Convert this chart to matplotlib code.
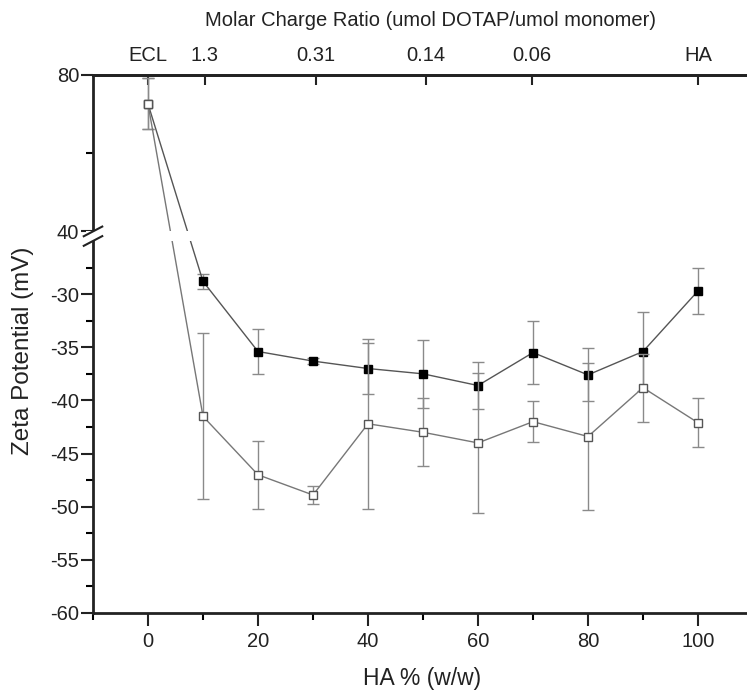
import numpy as np
import matplotlib
matplotlib.use('Agg')
import matplotlib.pyplot as plt
from matplotlib.ticker import FixedLocator
from matplotlib.lines import Line2D
from matplotlib.patches import Rectangle

plt.rcParams['font.family'] = ['Liberation Sans', 'DejaVu Sans']

# HA content and zeta potential readings
ha_pct = [0, 10, 20, 30, 40, 50, 60, 70, 80, 90, 100]
zeta_filled = [72.6, -28.8, -35.4, -36.3, -37.0, -37.5, -38.6, -35.5, -37.6, -35.4, -29.7]
err_filled = [6.5, 0.7, 2.1, 0.3, 2.4, 3.2, 2.2, 3.0, 2.5, 3.7, 2.2]
zeta_open = [72.6, -41.5, -47.0, -48.9, -42.2, -43.0, -44.0, -42.0, -43.4, -38.8, -42.1]
err_open = [6.5, 7.8, 3.2, 0.85, 8.0, 3.2, 6.6, 1.9, 6.9, 3.2, 2.3]

# top axis: molar charge ratio
top_pos = [0, 10.3, 30.6, 50.6, 69.8, 100]
top_labels = ['ECL', '1.3', '0.31', '0.14', '0.06', 'HA']

y_major = [-60, -55, -50, -45, -40, -35, -30, 40, 80]
y_minor = [-57.5, -52.5, -47.5, -42.5, -37.5, -32.5, -27.5, 60]
x_major = [0, 20, 40, 60, 80, 100]
x_minor = [-10, 10, 30, 50, 70, 90, 110]

# broken y axis: -60..-25 below the break, 40..80 above it
LO, HI, GAP, K = -25.0, 40.0, 0.9, 0.368


def fwd(y):
    y = np.asarray(y, float)
    return np.where(y <= LO, y,
                    np.where(y >= HI, LO + GAP + (y - HI) * K,
                             LO + (y - LO) / (HI - LO) * GAP))


def inv(t):
    t = np.asarray(t, float)
    return np.where(t <= LO, t,
                    np.where(t >= LO + GAP, HI + (t - LO - GAP) / K,
                             LO + (t - LO) / GAP * (HI - LO)))


fig = plt.figure(figsize=(7.47, 6.96), dpi=100)
ax = fig.add_axes([0.1245, 0.1193, 0.8835, 0.773])
ax.set_yscale('function', functions=(fwd, inv))
ax.set_xlim(-10, 110)
ax.set_ylim(-60, 80)

ax.errorbar(ha_pct, zeta_filled, yerr=err_filled, fmt='-s', color='#555555',
            lw=1.0, ms=6.3, mfc='black', mec='black', ecolor='#8a8a8a',
            elinewidth=1.0, capsize=4, capthick=1.0, zorder=2)
ax.errorbar(ha_pct, zeta_open, yerr=err_open, fmt='-s', color='#777777',
            lw=1.0, ms=6.3, mfc='white', mec='#555555', mew=1.0, ecolor='#8a8a8a',
            elinewidth=1.0, capsize=4, capthick=1.0, zorder=3)

# blank band where the axis is broken
ax.axhspan(LO, HI, color='white', zorder=4, lw=0)

ax.xaxis.set_major_locator(FixedLocator(x_major))
ax.xaxis.set_minor_locator(FixedLocator(x_minor))
ax.yaxis.set_major_locator(FixedLocator(y_major))
ax.yaxis.set_minor_locator(FixedLocator(y_minor))
ax.set_yticklabels([str(v) for v in y_major])

ax.tick_params(which='major', direction='out', length=9, width=1.5,
               labelsize=14.5, pad=1, colors='#222222')
ax.tick_params(which='minor', direction='out', length=5, width=1.5)
ax.tick_params(axis='x', which='major', pad=5)
ax.spines['right'].set_visible(False)
for s in ['left', 'bottom', 'top']:
    ax.spines[s].set_linewidth(2)
    ax.spines[s].set_color('#222222')

sec = ax.secondary_xaxis('top')
sec.set_xticks(top_pos, top_labels)
sec.tick_params(direction='in', length=7, width=1.5, labelsize=14.5, pad=7,
                colors='#222222')
sec.spines['top'].set_linewidth(2)
sec.spines['top'].set_color('#222222')

ax.set_xlabel('HA % (w/w)', fontsize=16.5, color='#222222')
ax.xaxis.set_label_coords(0.498, -0.100)
ax.set_ylabel('Zeta Potential (mV)', fontsize=17.5, color='#222222')
ax.yaxis.set_label_coords(-0.089, 0.487)

fig.text(430 / 747, 1 - 20 / 696, 'Molar Charge Ratio (umol DOTAP/umol monomer)',
         ha='center', va='center', fontsize=14.5, color='#222222')

# break marks on the left spine
to_ax = ax.transAxes.inverted()
y_lo = to_ax.transform(ax.transData.transform((0, LO)))[1]
y_hi = to_ax.transform(ax.transData.transform((0, HI)))[1]
ax.add_patch(Rectangle((-0.01, y_lo), 0.02, y_hi - y_lo, transform=ax.transAxes,
                       facecolor='white', edgecolor='none', clip_on=False, zorder=5))
dx, dy = 0.014, 0.009
for yy in (y_lo, y_hi):
    ax.add_line(Line2D([-dx, dx], [yy - dy, yy + dy], transform=ax.transAxes,
                       color='#222222', lw=1.5, clip_on=False, zorder=6))

fig.savefig('out.png', dpi=100)
plt.close(fig)
